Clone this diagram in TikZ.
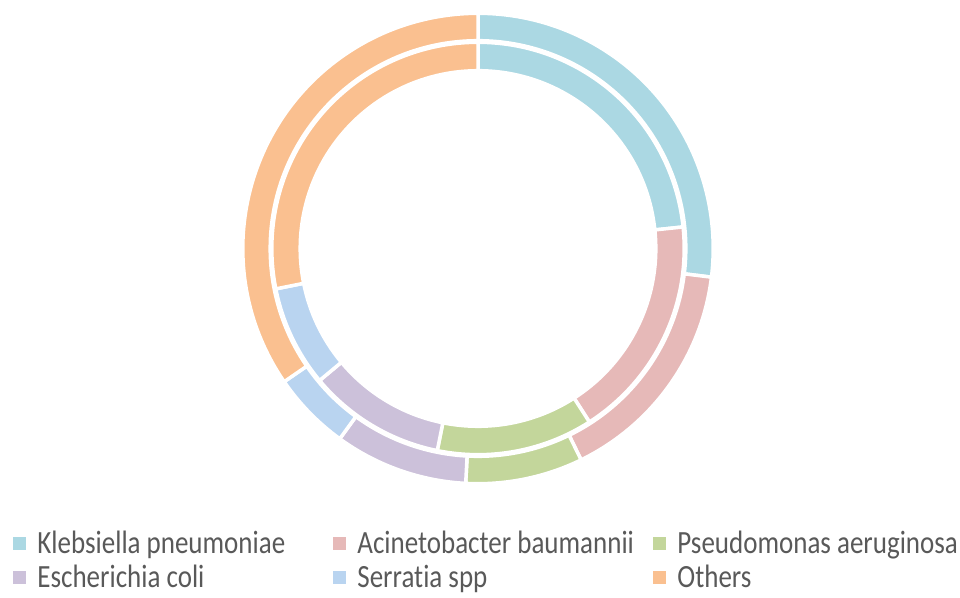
\documentclass[tikz,border=0pt]{standalone}
\usepackage{graphicx}
\usepackage{fontspec}
\setmainfont{Carlito}[Ligatures=NoCommon]
\usetikzlibrary{positioning}
\definecolor{kleb}{HTML}{ABD8E3}
\definecolor{acin}{HTML}{E6B9B8}
\definecolor{pseu}{HTML}{C3D69B}
\definecolor{esch}{HTML}{CCC1DA}
\definecolor{serr}{HTML}{B9D4F0}
\definecolor{othr}{HTML}{FAC090}
\definecolor{txtgray}{HTML}{595959}
\newcommand{\tall}[1]{\scalebox{1}[1.2]{#1}}

\begin{document}
\begin{tikzpicture}[x=1pt,y=1pt,
        seg/.style={fill=#1,draw=white,line width=3.5pt},
        key/.style={fill=#1,minimum size=13pt,inner sep=0pt},
        lbl/.style={inner sep=0pt,text=txtgray,text height=26pt,text depth=6pt,
                font=\fontsize{27}{32}\selectfont}]
        \useasboundingbox (0,0) rectangle (960,597);
        \coordinate (c) at (478,348.5);
        % outer ring
        \foreach \a/\b/\col in {0/97/kleb,97/154/acin,154/183/pseu,183/216/esch,216/235.5/serr,235.5/360/othr}
                \draw[seg=\col] ([shift={(90-\a:235.2)}]c) arc[start angle=90-\a,end angle=90-\b,radius=235.2]
                        -- ([shift={(90-\b:207.8)}]c) arc[start angle=90-\b,end angle=90-\a,radius=207.8] -- cycle;
        % inner ring
        \foreach \a/\b/\col in {0/84/kleb,84/147.3/acin,147.3/191.4/pseu,191.4/230.2/esch,230.2/258.7/serr,258.7/360/othr}
                \draw[seg=\col] ([shift={(90-\a:206.2)}]c) arc[start angle=90-\a,end angle=90-\b,radius=206.2]
                        -- ([shift={(90-\b:177.8)}]c) arc[start angle=90-\b,end angle=90-\a,radius=177.8] -- cycle;
        % legend
        \node[key=kleb] (kkey) at (19.5,53.5) {};
        \node[key=acin] (akey) at (339.5,53.5) {};
        \node[key=pseu] (pkey) at (659.5,53.5) {};
        \node[key=esch] (ekey) at (19.5,20) {};
        \node[key=serr] (skey) at (339.5,20) {};
        \node[key=othr] (okey) at (659.5,20) {};
        \node[lbl,right=11pt of kkey] (ktext) {\tall{Klebsiella pneumoniae}};
        \node[lbl,right=11pt of akey] (atext) {\tall{Acinetobacter baumannii}};
        \node[lbl,right=11pt of pkey] (ptext) {\tall{Pseudomonas aeruginosa}};
        \node[lbl,right=11pt of ekey] (etext) {\tall{Escherichia coli}};
        \node[lbl,right=11pt of skey] (stext) {\tall{Serratia spp}};
        \node[lbl,right=11pt of okey] (otext) {\tall{Others}};
\end{tikzpicture}
\end{document}
